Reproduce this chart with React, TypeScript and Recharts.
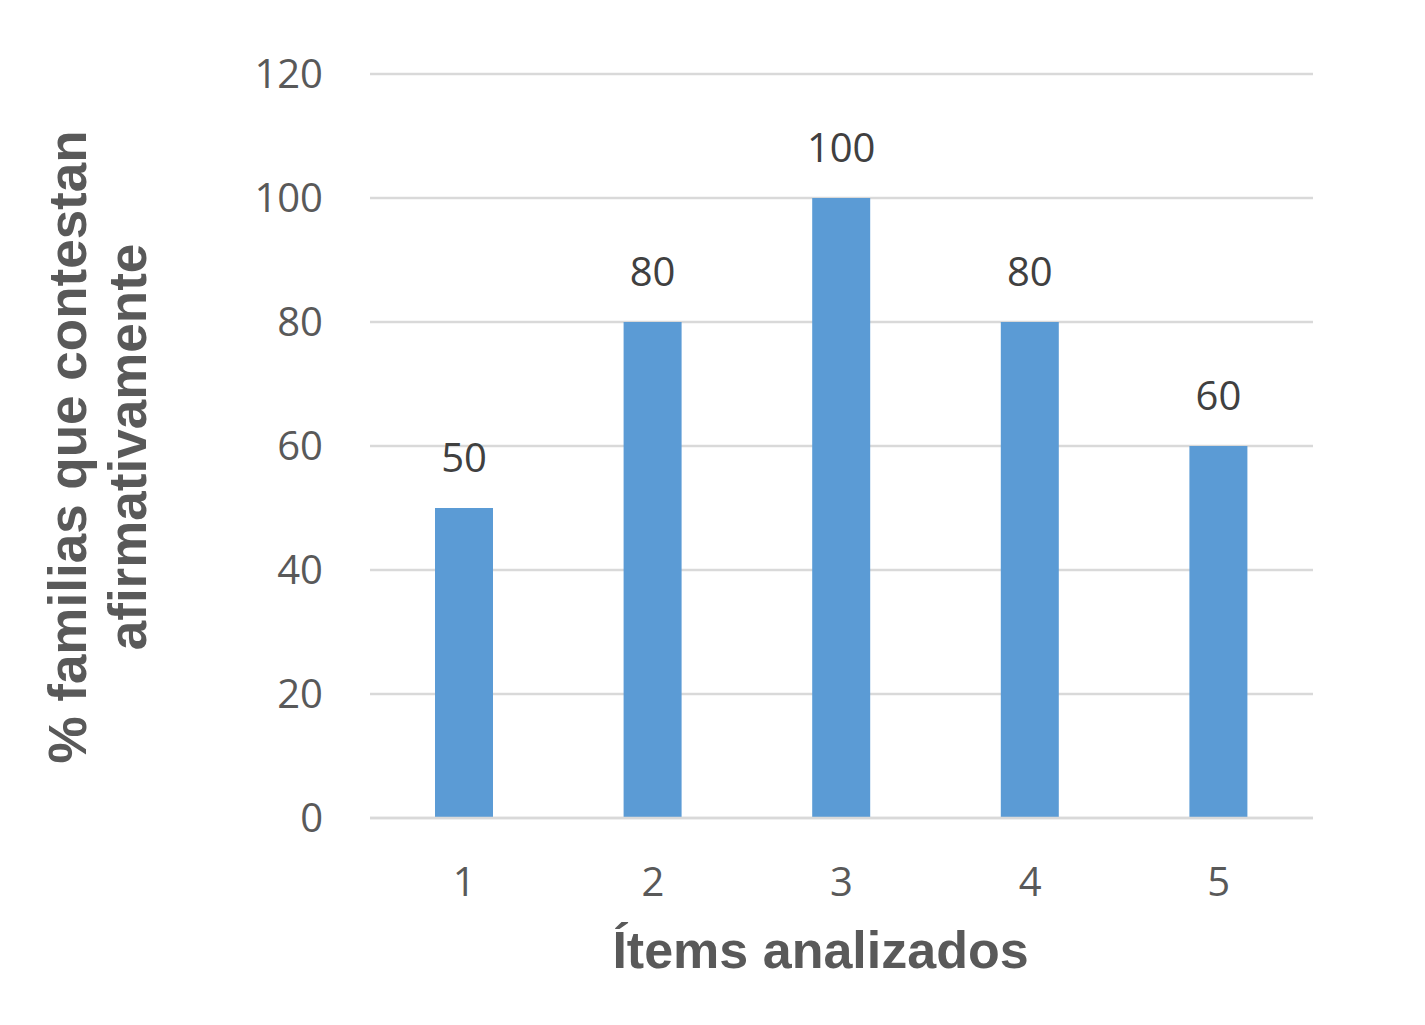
import { Bar, BarChart, CartesianGrid, LabelList, XAxis, YAxis } from 'recharts';

const ITEMS = ['1', '2', '3', '4', '5'];
const PERCENTS = [50, 80, 100, 80, 60];
const Y_TICKS = [0, 20, 40, 60, 80, 100, 120];

const BLUE = '#5B9BD5';
const GRID = '#D9D9D9';
const TICK_GREY = '#595959';
const LABEL_DARK = '#404040';
const TICK_FONT = '"Open Sans", sans-serif';
const TITLE_FONT = '"Liberation Sans", Arial, sans-serif';

const data = ITEMS.map((item, i) => ({ item, pct: PERCENTS[i] }));

// two-line rotated y title, centred on the plot's vertical middle
const YTitle = ({ viewBox }: any) => {
  const cy = viewBox.y + viewBox.height / 2 + 1;
  const lines = [
    { text: '% familias que contestan', x: 86 },
    { text: 'afirmativamente', x: 146 },
  ];
  return (
    <g>
      {lines.map((l) => (
        <text
          key={l.text}
          x={l.x}
          y={cy}
          transform={`rotate(-90 ${l.x} ${cy})`}
          textAnchor="middle"
          fontFamily={TITLE_FONT}
          fontWeight="bold"
          fontSize={53}
          fill={TICK_GREY}
        >
          {l.text}
        </text>
      ))}
    </g>
  );
};

// title sits a little left of the plot centre in the original
const XTitle = ({ viewBox }: any) => (
  <text
    x={viewBox.x + viewBox.width / 2 - 21}
    y={968}
    textAnchor="middle"
    fontFamily={TITLE_FONT}
    fontWeight="bold"
    fontSize={52}
    fill={TICK_GREY}
  >
    Ítems analizados
  </text>
);

export default function App() {
  return (
    <div style={{ position: 'absolute', left: 0, top: 0, background: '#fff' }}>
      <BarChart
        width={1425}
        height={1025}
        data={data}
        margin={{ top: 74, right: 112, bottom: 147, left: 270 }}
        barCategoryGap={0}
      >
        <CartesianGrid vertical={false} stroke={GRID} strokeWidth={2.5} />
        <XAxis
          dataKey="item"
          height={60}
          axisLine={{ stroke: GRID, strokeWidth: 2.5 }}
          tickLine={false}
          tickSize={0}
          tickMargin={50}
          tick={{ fontSize: 40, fill: TICK_GREY, fontFamily: TICK_FONT }}
          label={<XTitle />}
        />
        <YAxis
          width={100}
          domain={[0, 120]}
          ticks={Y_TICKS}
          axisLine={false}
          tickLine={false}
          tickSize={0}
          tickMargin={47}
          tick={{ fontSize: 40, fill: TICK_GREY, fontFamily: TICK_FONT }}
          label={<YTitle />}
        />
        <Bar dataKey="pct" fill={BLUE} barSize={58} isAnimationActive={false}>
          <LabelList
            dataKey="pct"
            position="top"
            offset={36}
            fontSize={40}
            fill={LABEL_DARK}
            fontFamily={TICK_FONT}
          />
        </Bar>
      </BarChart>
    </div>
  );
}
